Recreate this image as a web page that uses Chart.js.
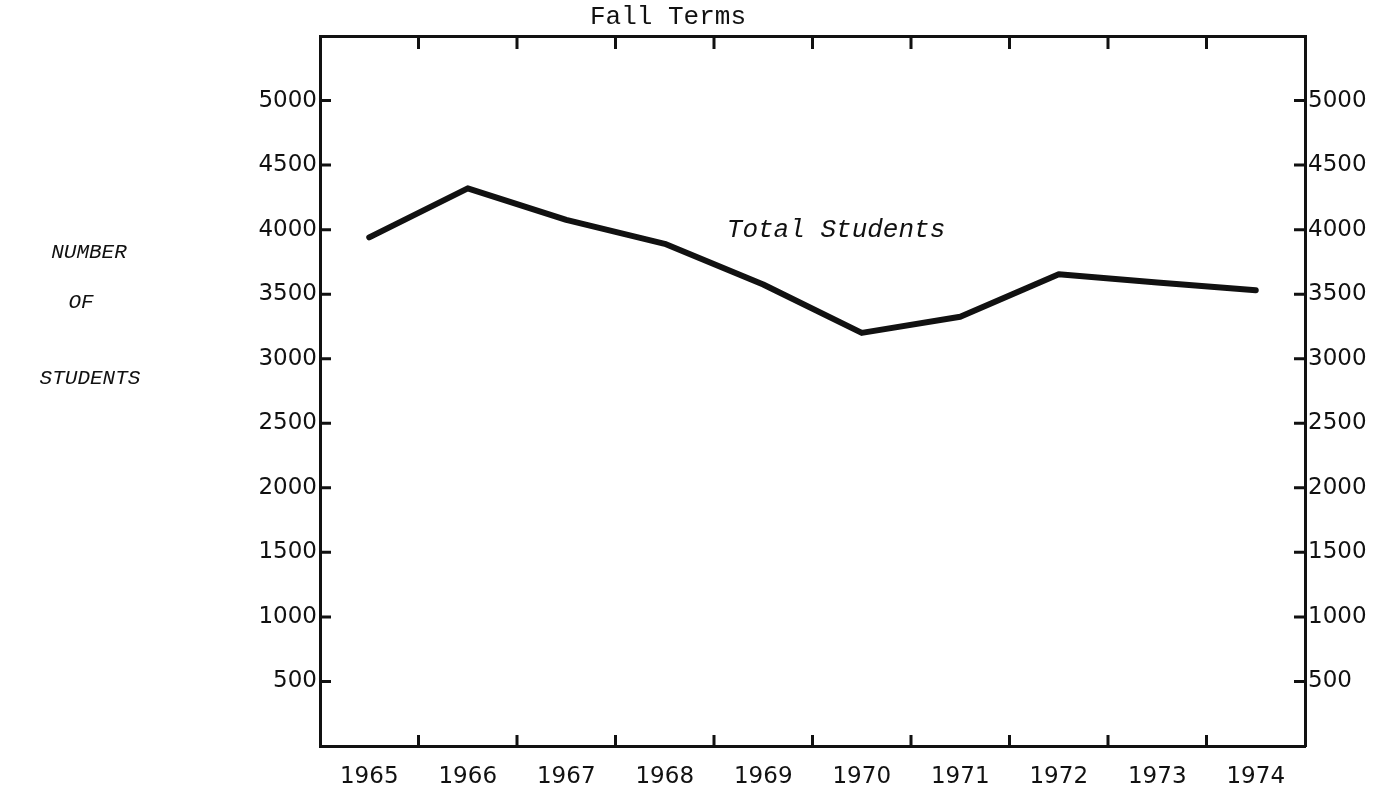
<!DOCTYPE html>
<html>
<head>
<meta charset="utf-8">
<script src="https://cdn.jsdelivr.net/npm/chart.js@4.4.1/dist/chart.umd.min.js"></script>
<style>
  html, body { margin: 0; padding: 0; background: #ffffff; }
  #wrap { position: relative; width: 1396px; height: 800px; }
</style>
</head>
<body>
<div id="wrap"><canvas id="c"></canvas></div>
<script>
const categories = ['1965', '1966', '1967', '1968', '1969', '1970', '1971', '1972', '1973', '1974'];
const totalStudents = [3940, 4320, 4075, 3890, 3575, 3200, 3325, 3655, 3590, 3530];
const yTickValues = [500, 1000, 1500, 2000, 2500, 3000, 3500, 4000, 4500, 5000];
const yMin = 0;
const yMax = 5500;
const titleText = 'Fall Terms';
const seriesLabel = 'Total Students';
const axisTitleLines = ['NUMBER', 'OF', 'STUDENTS'];

const INK = '#111111';
const tickFont = { family: 'DejaVu Sans', size: 23 };

const decorPlugin = {
  id: 'decor',
  afterDraw(chart) {
    const ctx = chart.ctx;
    const { left, right, top, bottom } = chart.chartArea;
    const xs = chart.scales.x;
    const ys = chart.scales.y;
    ctx.save();
    ctx.strokeStyle = INK;
    ctx.lineWidth = 3;
    ctx.lineCap = 'butt';
    for (let i = 0; i < categories.length - 1; i++) {
      const px = (xs.getPixelForValue(i) + xs.getPixelForValue(i + 1)) / 2;
      ctx.beginPath();
      ctx.moveTo(px, bottom);
      ctx.lineTo(px, bottom - 11);
      ctx.moveTo(px, top);
      ctx.lineTo(px, top + 13);
      ctx.stroke();
    }
    yTickValues.forEach(v => {
      const py = ys.getPixelForValue(v);
      ctx.beginPath();
      ctx.moveTo(left, py);
      ctx.lineTo(left + 11, py);
      ctx.moveTo(right, py);
      ctx.lineTo(right - 11, py);
      ctx.stroke();
    });
    ctx.fillStyle = INK;
    ctx.textAlign = 'center';
    ctx.textBaseline = 'middle';
    ctx.font = '26px "Liberation Mono"';
    ctx.fillText(titleText, 668, 17);

    ctx.textAlign = 'left';
    ctx.font = 'italic 26px "Liberation Mono"';
    ctx.fillText(seriesLabel, xs.getPixelForValue(3.63), ys.getPixelForValue(4000));

    ctx.textAlign = 'center';
    ctx.font = 'italic 21px "Liberation Mono"';
    const ay = [252, 302, 378];
    const ax = [89, 81, 90];
    axisTitleLines.forEach((t, i) => ctx.fillText(t, ax[i], ay[i]));
    ctx.restore();
  }
};

const yTickCallback = v => (yTickValues.includes(v) ? String(v) : '');

new Chart(document.getElementById('c'), {
  type: 'line',
  data: {
    labels: categories,
    datasets: [{
      label: seriesLabel,
      data: totalStudents,
      borderColor: INK,
      borderWidth: 6,
      pointRadius: 0,
      tension: 0,
      fill: false,
      borderJoinStyle: 'round',
      borderCapStyle: 'round'
    }]
  },
  options: {
    responsive: true,
    maintainAspectRatio: false,
    animation: false,
    layout: { padding: { left: 240, right: 11, top: 0, bottom: 0 } },
    plugins: { legend: { display: false }, title: { display: false }, tooltip: { enabled: false } },
    scales: {
      x: {
        type: 'category',
        position: 'bottom',
        offset: true,
        grid: { display: false, drawTicks: false },
        border: { display: true, color: INK, width: 3 },
        ticks: { color: INK, font: tickFont, padding: 17, maxRotation: 0, autoSkip: false },
        afterFit: s => { s.height = 54; }
      },
      x2: {
        type: 'category',
        position: 'top',
        labels: categories,
        offset: true,
        grid: { display: false, drawTicks: false },
        border: { display: true, color: INK, width: 3 },
        ticks: { display: false },
        afterFit: s => { s.height = 36; }
      },
      y: {
        type: 'linear',
        position: 'left',
        min: yMin,
        max: yMax,
        grid: { display: false, drawTicks: false },
        border: { display: true, color: INK, width: 3 },
        ticks: { stepSize: 500, color: INK, font: tickFont, padding: 3, callback: yTickCallback },
        afterFit: s => { s.width = 80; }
      },
      y2: {
        type: 'linear',
        position: 'right',
        min: yMin,
        max: yMax,
        grid: { display: false, drawTicks: false },
        border: { display: true, color: INK, width: 3 },
        ticks: { stepSize: 500, color: INK, font: tickFont, padding: 3, callback: yTickCallback },
        afterFit: s => { s.width = 80; }
      }
    }
  },
  plugins: [decorPlugin]
});
</script>
</body>
</html>
